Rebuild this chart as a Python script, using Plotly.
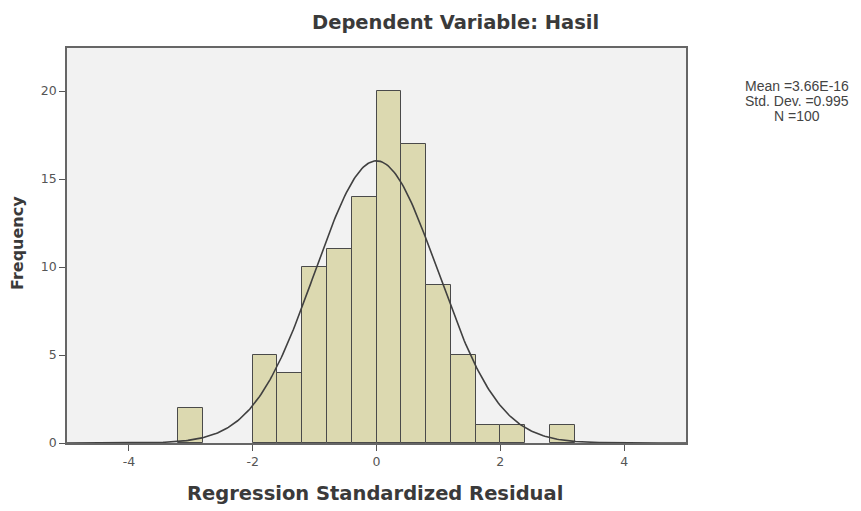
import numpy as np
import plotly.graph_objects as go

# Data
bin_left = [-3.2, -2.0, -1.6, -1.2, -0.8, -0.4, 0.0, 0.4, 0.8, 1.2, 1.6, 2.0, 2.8]
counts = [2, 5, 4, 10, 11, 14, 20, 17, 9, 5, 1, 1, 1]
bin_width = 0.4
mean_val = 3.66e-16
std_val = 0.995
n_val = 100
x_ticks = [-4, -2, 0, 2, 4]
x_tick_labels = ["-4", "-2", "0", "2", "4"]
y_ticks = [0, 5, 10, 15, 20]
stats_lines = ["Mean =3.66E-16", "Std. Dev. =0.995", "N =100"]

centers = [b + bin_width / 2 for b in bin_left]

# Fitted normal curve from the stated mean / std. dev. / N
xs = np.linspace(-5, 5, 400)
ys = n_val * bin_width * np.exp(-0.5 * ((xs - mean_val) / std_val) ** 2) / (std_val * np.sqrt(2 * np.pi))

# page body has an 8px default margin -> shift everything by 8px
OFF = 8
W, H = 861, 511
L, R, T, B = 67 - OFF, 686 - OFF, 48 - OFF, 443 - OFF


def px(xp):
    return (xp - OFF - L) / (R - L)


def py(yp):
    return (B - (yp - OFF)) / (B - T)


fig = go.Figure()
fig.add_trace(go.Bar(
    x=centers, y=counts, width=bin_width,
    marker=dict(color="#DCD9B0", line=dict(color="#4a4a4a", width=1)),
    hoverinfo="x+y", showlegend=False,
))
fig.add_trace(go.Scatter(
    x=xs, y=ys, mode="lines",
    line=dict(color="#404040", width=1.6), showlegend=False, hoverinfo="skip",
))

FONT = "DejaVu Sans, Verdana, sans-serif"
SFONT = "Liberation Sans, Arial, sans-serif"

annotations = [
    dict(xref="paper", yref="paper", x=px(455), y=py(9), 
         xanchor="center", yanchor="top", showarrow=False,
         text="<b>Dependent Variable: Hasil</b>", font=dict(family=FONT, size=19.5, color="#3a3a3a")),
    dict(xref="paper", yref="paper", x=px(375), y=py(493),
         xanchor="center", yanchor="middle", showarrow=False,
         text="<b>Regression Standardized Residual</b>", font=dict(family=FONT, size=19.5, color="#3a3a3a")),
    dict(xref="paper", yref="paper", x=px(17), y=py(243),
         xanchor="center", yanchor="middle", showarrow=False, textangle=-90,
         text="<b>Frequency</b>", font=dict(family=FONT, size=16, color="#3a3a3a")),
]
for i, line in enumerate(stats_lines):
    annotations.append(dict(
        xref="paper", yref="paper", x=px(797), y=py(86 + 15 * i),
        xanchor="center", yanchor="middle", showarrow=False,
        text=line, font=dict(family=SFONT, size=14, color="#444444"),
    ))

fig.update_layout(
    width=W, height=H,
    margin=dict(l=L, r=W - R, t=T, b=H - B),
    paper_bgcolor="white", plot_bgcolor="#F2F2F2",
    font=dict(family=FONT, color="#444444"),
    bargap=0,
    xaxis=dict(range=[-5, 5], tickvals=x_ticks, ticktext=x_tick_labels, ticks="outside", ticklen=6,
               tickcolor="#555555", showgrid=False, zeroline=False, automargin=False,
               showline=True, linecolor="#666666", linewidth=1.5, mirror=True,
               tickfont=dict(size=12.5, color="#555555")),
    yaxis=dict(range=[0, 22.45], tickvals=y_ticks, ticks="outside", ticklen=6,
               tickcolor="#555555", showgrid=False, zeroline=False, automargin=False,
               showline=True, linecolor="#666666", linewidth=1.5, mirror=True,
               tickfont=dict(size=12.5, color="#555555")),
    annotations=annotations,
)

fig.write_html("out.html")
